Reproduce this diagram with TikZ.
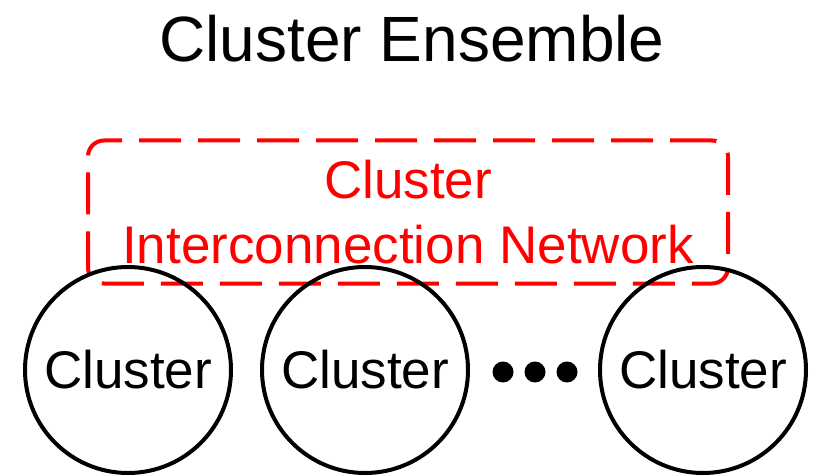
\documentclass[tikz,border=0pt]{standalone}
\usepackage{fontspec}
\setmainfont{Liberation Sans}
\tikzset{cluster/.style={draw,circle,line width=4pt,minimum size=206pt,inner sep=0pt,font=\fontsize{53}{64}\selectfont},
  network/.style={draw=red,text=red,dashed,dash pattern=on 42pt off 17pt,line width=4pt,rounded corners=16pt,
    minimum width=640pt,minimum height=143pt,align=center,font=\fontsize{53}{65}\selectfont}}

\begin{document}
\begin{tikzpicture}[x=1pt,y=-1pt]
    \useasboundingbox (0,0) rectangle (819,476);
    \node[anchor=base,font=\fontsize{64}{77}\selectfont] (title) at (412,62) {Cluster Ensemble};
    \node[network] (net) at (408,212) {Cluster\\Interconnection Network};
    \node[cluster] (c1) at (128,370) {Cluster};
    \node[cluster] (c2) at (365,370) {Cluster};
    \node[cluster] (c3) at (703,370) {Cluster};
    \foreach \i/\x in {1/503,2/535,3/567}
      \node[circle,fill,minimum size=21pt,inner sep=0pt] (dot\i) at (\x,372) {};
  \end{tikzpicture}
\end{document}
